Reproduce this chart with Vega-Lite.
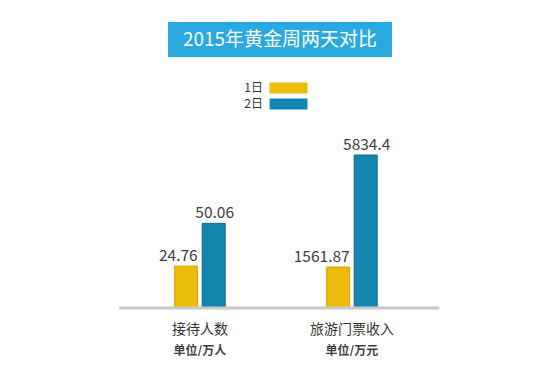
{
  "$schema": "https://vega.github.io/schema/vega-lite/v6.json",
  "padding": {"left": 117, "top": 22, "right": 0, "bottom": 0},
  "background": "white",
  "config": {"view": {"stroke": null}, "font": "Noto Sans CJK SC"},
  "center": true,
  "spacing": 73,
  "vconcat": [
    {
      "width": 224,
      "height": 35,
      "view": {"fill": "#29A9DF", "stroke": null},
      "data": {"values": [{"title": "2015年黄金周两天对比"}]},
      "mark": {"type": "text", "color": "white", "fontSize": 19, "baseline": "middle", "align": "center"},
      "encoding": {"text": {"field": "title"}}
    },
    {
      "width": 320,
      "height": 178,
      "data": {"values": [
        {"group": "接待人数", "day": "1日", "value": 24.76},
        {"group": "接待人数", "day": "2日", "value": 50.06},
        {"group": "旅游门票收入", "day": "1日", "value": 1561.87},
        {"group": "旅游门票收入", "day": "2日", "value": 5834.4}
      ]},
      "layer": [
        {
          "transform": [{"filter": "datum.group === '接待人数'"}],
          "encoding": {
            "x": {"field": "group", "type": "nominal", "sort": null,
              "scale": {"domain": ["接待人数", "旅游门票收入"], "paddingInner": 0.306, "paddingOuter": 0.2056, "align": 0.447},
              "axis": {"title": null, "domain": false, "ticks": false, "labelAngle": 0, "labelFontSize": 14, "labelColor": "#333333", "labelPadding": 14, "labelBaseline": "top", "orient": "bottom"}},
            "xOffset": {"field": "day", "type": "nominal", "scale": {"domain": ["1日", "2日"], "paddingInner": 0.1636, "paddingOuter": 1}},
            "y": {"field": "value", "type": "quantitative", "scale": {"domain": [0, 105.2], "nice": false}, "axis": null}
          },
          "layer": [
            {
              "mark": {"type": "bar", "strokeWidth": 1},
              "encoding": {
                "color": {"field": "day", "type": "nominal", "scale": {"domain": ["1日", "2日"], "range": ["#EBBC0A", "#1485AF"]},
                  "legend": {"orient": "none", "legendX": 163.5, "legendY": 60, "title": null, "direction": "vertical", "padding": 0,
                    "symbolType": "M-3.45,-1H3.45V1H-3.45Z", "symbolSize": 121, "symbolStrokeWidth": 0, "symbolOpacity": 1,
                    "labelOffset": -31.5, "labelAlign": "right", "labelFontSize": 12, "labelColor": "#333333", "rowPadding": 4}},
                "stroke": {"field": "day", "type": "nominal", "scale": {"domain": ["1日", "2日"], "range": ["#D3A600", "#0E6A8D"]}, "legend": null}
              }
            },
            {
              "transform": [{"filter": "datum.day === '1日'"}],
              "mark": {"type": "text", "baseline": "alphabetic", "align": "right", "dx": 11.5, "dy": -5, "fontSize": 15.5, "color": "#404040"},
              "encoding": {"text": {"field": "value", "type": "nominal"}}
            },
            {
              "transform": [{"filter": "datum.day === '2日'"}],
              "mark": {"type": "text", "baseline": "alphabetic", "align": "center", "dx": 1, "dy": -5, "fontSize": 15.5, "color": "#404040"},
              "encoding": {"text": {"field": "value", "type": "nominal"}}
            }
          ]
        },
        {
          "transform": [{"filter": "datum.group === '旅游门票收入'"}],
          "encoding": {
            "x": {"field": "group", "type": "nominal", "sort": null,
              "scale": {"domain": ["接待人数", "旅游门票收入"], "paddingInner": 0.306, "paddingOuter": 0.2056, "align": 0.447},
              "axis": {"title": null, "domain": false, "ticks": false, "labelAngle": 0, "labelFontSize": 12, "labelFontWeight": "bold", "labelColor": "#404040", "labelPadding": 37, "labelBaseline": "top", "orient": "bottom",
                "labelExpr": "datum.label === '接待人数' ? '单位/万人' : '单位/万元'"}},
            "xOffset": {"field": "day", "type": "nominal", "scale": {"domain": ["1日", "2日"], "paddingInner": 0.1636, "paddingOuter": 1}},
            "y": {"field": "value", "type": "quantitative", "scale": {"domain": [0, 6788], "nice": false}, "axis": null}
          },
          "layer": [
            {
              "mark": {"type": "bar", "strokeWidth": 1},
              "encoding": {
                "color": {"field": "day", "type": "nominal"},
                "stroke": {"field": "day", "type": "nominal", "scale": {"domain": ["1日", "2日"], "range": ["#D3A600", "#0E6A8D"]}, "legend": null}
              }
            },
            {
              "transform": [{"filter": "datum.day === '1日'"}],
              "mark": {"type": "text", "baseline": "alphabetic", "align": "right", "dx": 11.5, "dy": -5, "fontSize": 15.5, "color": "#404040"},
              "encoding": {"text": {"field": "value", "type": "nominal"}}
            },
            {
              "transform": [{"filter": "datum.day === '2日'"}],
              "mark": {"type": "text", "baseline": "alphabetic", "align": "center", "dx": 1, "dy": -5, "fontSize": 15.5, "color": "#404040"},
              "encoding": {"text": {"field": "value", "type": "nominal"}}
            }
          ]
        },
        {
          "data": {"values": [{"base": 0}]},
          "mark": {"type": "rule", "color": "#C8C8C8", "strokeWidth": 3},
          "encoding": {"y": {"field": "base", "type": "quantitative", "scale": {"domain": [0, 1]}, "axis": null}}
        }
      ],
      "resolve": {"scale": {"y": "independent", "x": "independent", "xOffset": "independent"}, "axis": {"x": "independent"}}
    }
  ]
}
